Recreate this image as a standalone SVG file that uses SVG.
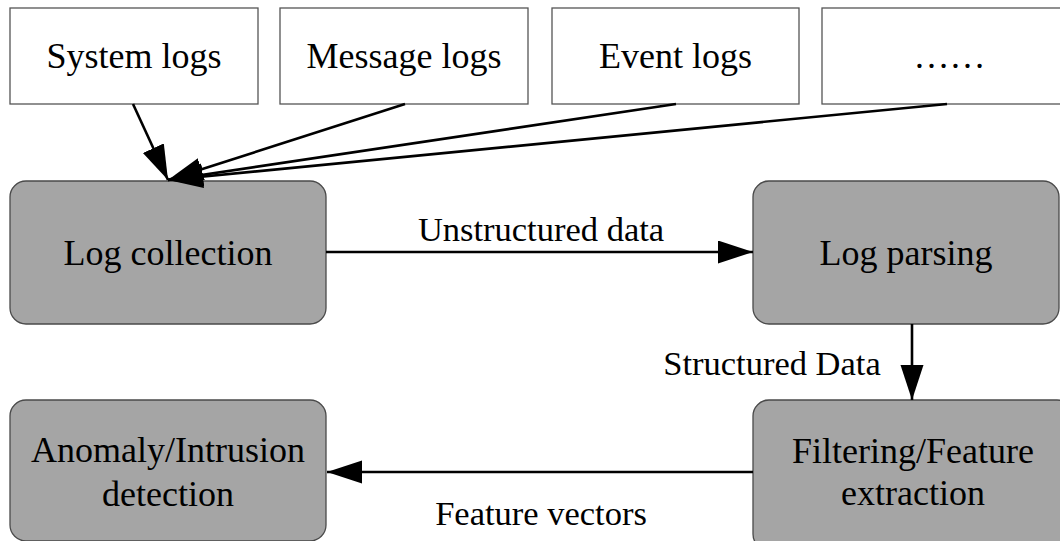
<svg xmlns="http://www.w3.org/2000/svg" width="1060" height="541" viewBox="0 0 1060 541">
<style>
.src{fill:#ffffff;stroke:#555555;stroke-width:1.3}
.proc{fill:#a5a5a5;stroke:#4a4a4a;stroke-width:1.3}
.t{font-family:"Liberation Serif","Times New Roman",serif;font-size:36px;fill:#000;text-anchor:middle}
.lbl{font-family:"Liberation Serif","Times New Roman",serif;font-size:34.5px;fill:#000;text-anchor:middle}
.edge{fill:none;stroke:#000;stroke-width:2.6}
</style>
<defs>
<marker id="ah" markerUnits="userSpaceOnUse" markerWidth="36" markerHeight="24" refX="35" refY="11.5" orient="auto">
<path d="M0,0 L35,11.5 L0,23 Z" fill="#000"/>
</marker>
</defs>
<rect width="1060" height="541" fill="#ffffff"/>
<g id="system-logs"><rect class="src" x="10" y="8" width="248" height="96"/><text class="t" x="134" y="68">System logs</text></g>
<g id="message-logs"><rect class="src" x="280" y="8" width="248" height="96"/><text class="t" x="404" y="68">Message logs</text></g>
<g id="event-logs"><rect class="src" x="552" y="8" width="247" height="96"/><text class="t" x="675.5" y="68">Event logs</text></g>
<g id="more-logs"><rect class="src" x="822" y="8" width="255" height="96"/><text class="t" x="949.5" y="68">……</text></g>
<g id="log-collection"><rect class="proc" x="10" y="181" width="316" height="143" rx="16" ry="16"/><text class="t" x="168" y="265">Log collection</text></g>
<g id="log-parsing"><rect class="proc" x="753" y="181" width="306" height="143" rx="16" ry="16"/><text class="t" x="906" y="265">Log parsing</text></g>
<g id="filtering"><rect class="proc" x="753" y="400" width="320" height="150" rx="16" ry="16"/><text class="t" x="913" y="463">Filtering/Feature</text><text class="t" x="913" y="505">extraction</text></g>
<g id="anomaly"><rect class="proc" x="10" y="400" width="316" height="141" rx="16" ry="16"/><text class="t" x="168" y="462">Anomaly/Intrusion</text><text class="t" x="168" y="506">detection</text></g>
<g id="connectors">
<line class="edge" x1="133" y1="104" x2="168" y2="180" marker-end="url(#ah)"/>
<line class="edge" x1="405" y1="104" x2="168" y2="180" marker-end="url(#ah)"/>
<line class="edge" x1="676" y1="104" x2="168" y2="180" marker-end="url(#ah)"/>
<line class="edge" x1="947" y1="104" x2="168" y2="180" marker-end="url(#ah)"/>
<line class="edge" x1="326" y1="252" x2="753" y2="252" marker-end="url(#ah)"/>
<text class="lbl" x="541" y="241">Unstructured data</text>
<line class="edge" x1="912" y1="324" x2="912" y2="400" marker-end="url(#ah)"/>
<text class="lbl" x="772" y="375">Structured Data</text>
<line class="edge" x1="753" y1="472" x2="327" y2="472" marker-end="url(#ah)"/>
<text class="lbl" x="541" y="525">Feature vectors</text>
</g>
</svg>
